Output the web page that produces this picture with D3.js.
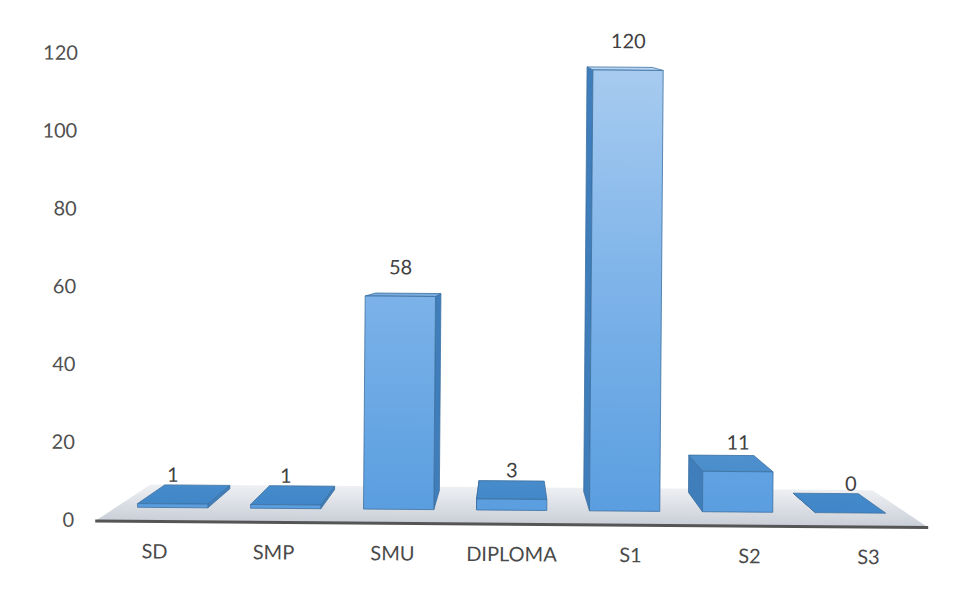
<!DOCTYPE html>
<html>
<head>
<meta charset="utf-8">
<script src="https://cdn.jsdelivr.net/npm/d3@7"></script>
<style>
  html, body { margin: 0; padding: 0; background: #ffffff; }
  svg { display: block; }
  text { font-family: Lato, "Open Sans", sans-serif; }
</style>
</head>
<body>
<svg id="chart" width="956" height="593"></svg>
<script>
// ---- data ----
const categories = ["SD", "SMP", "SMU", "DIPLOMA", "S1", "S2", "S3"];
const values = [1, 1, 58, 3, 120, 11, 0];
const yTicks = [0, 20, 40, 60, 80, 100, 120];

// ---- layout ----
const svg = d3.select("#chart");
const defs = svg.append("defs");
const g = svg.append("g").attr("transform", "rotate(0.45, 478, 296)");

// world scales (front plane of the floor, z = 0)
const x = d3.scaleBand().domain(categories).range([97, 930])
  .paddingInner(0.378).paddingOuter(0.189);
const y = d3.scaleLinear().domain([0, 120]).range([524, 58.3]);
// y-axis label scale
const yLab = d3.scaleLinear().domain([0, 120]).range([523, 56]);

// perspective projection
const VX = 510, VY = 260, AX = 0.133, AY = 0.14;
function proj(X, Y, z) {
  return [VX + (X - VX) * (1 - AX * z), VY + (Y - VY) * (1 - AY * z)];
}
const Z0 = 0.38, Z1 = 0.9;

// gradients
const gFront = defs.append("linearGradient").attr("id", "gFront")
  .attr("gradientUnits", "userSpaceOnUse").attr("x1", 0).attr("x2", 0).attr("y1", 60).attr("y2", 512);
gFront.append("stop").attr("offset", 0).attr("stop-color", "#a9ccf0");
gFront.append("stop").attr("offset", 0.5).attr("stop-color", "#7db3e9");
gFront.append("stop").attr("offset", 1).attr("stop-color", "#5a9ee0");

const gTop = defs.append("linearGradient").attr("id", "gTop")
  .attr("gradientUnits", "userSpaceOnUse").attr("x1", 0).attr("x2", 0).attr("y1", 60).attr("y2", 512);
gTop.append("stop").attr("offset", 0).attr("stop-color", "#b9d6f4");
gTop.append("stop").attr("offset", 1).attr("stop-color", "#3f86c8");

const gFloor = defs.append("linearGradient").attr("id", "gFloor")
  .attr("x1", 0).attr("x2", 0).attr("y1", 1).attr("y2", 0);
gFloor.append("stop").attr("offset", 0).attr("stop-color", "#c9ced7");
gFloor.append("stop").attr("offset", 1).attr("stop-color", "#eef0f3");

// floor
const x0 = x.range()[0], x1 = x.range()[1], base = y(0);
const floorPts = [proj(x0, base, 0), proj(x1, base, 0), proj(x1, base, 1), proj(x0, base, 1)];
const pts = arr => arr.map(p => p.join(",")).join(" ");
g.append("polygon").attr("points", pts(floorPts)).attr("fill", "url(#gFloor)");
g.append("line")
  .attr("x1", floorPts[0][0]).attr("y1", floorPts[0][1])
  .attr("x2", floorPts[1][0]).attr("y2", floorPts[1][1])
  .attr("stroke", "#555555").attr("stroke-width", 3);

// bars
const data = categories.map((c, i) => ({ c, v: values[i] }));
const order = data.slice().sort((a, b) =>
  Math.abs(x(b.c) + x.bandwidth() / 2 - VX) - Math.abs(x(a.c) + x.bandwidth() / 2 - VX));
const edge = "#3d70a0";

order.forEach(d => {
  const xl = x(d.c), xr = xl + x.bandwidth(), yt = y(d.v), yb = y(0);
  const cx = xl + x.bandwidth() / 2;
  const FLT = proj(xl, yt, Z0), FRT = proj(xr, yt, Z0), FLB = proj(xl, yb, Z0), FRB = proj(xr, yb, Z0);
  const BLT = proj(xl, yt, Z1), BRT = proj(xr, yt, Z1), BLB = proj(xl, yb, Z1), BRB = proj(xr, yb, Z1);
  // keep a thin visible top face for very tall bars
  const minTop = FLT[1] - 3;
  if (BLT[1] > minTop) { BLT[1] = minTop; BRT[1] = minTop; }
  const bg = g.append("g");
  const side = cx < VX ? [FRT, BRT, BRB, FRB] : [FLT, BLT, BLB, FLB];
  bg.append("polygon").attr("points", pts(side))
    .attr("fill", "#3f7dbb").attr("stroke", edge).attr("stroke-width", 0.8);
  bg.append("polygon").attr("points", pts([FLT, FRT, BRT, BLT]))
    .attr("fill", "url(#gTop)").attr("stroke", edge).attr("stroke-width", 0.8);
  if (FLB[1] - FLT[1] > 0.5) {
    bg.append("polygon").attr("points", pts([FLT, FRT, FRB, FLB]))
      .attr("fill", "url(#gFront)").attr("stroke", edge).attr("stroke-width", 0.8);
  }
  const lp = proj(cx, yt, Z0);
  g.append("text").attr("x", lp[0]).attr("y", lp[1] - 29)
    .attr("text-anchor", "middle").attr("dy", "0.35em")
    .attr("font-size", 20).attr("fill", "#404040").text(d.v);
});

// category labels
g.selectAll("text.cat").data(categories).join("text").attr("class", "cat")
  .attr("x", c => x(c) + x.bandwidth() / 2)
  .attr("y", 554).attr("dy", "0.35em")
  .attr("text-anchor", "middle").attr("font-size", 20).attr("fill", "#4a4a4a")
  .text(c => c);

// y-axis labels
g.selectAll("text.ytick").data(yTicks).join("text").attr("class", "ytick")
  .attr("x", 76).attr("y", v => yLab(v)).attr("dy", "0.35em")
  .attr("text-anchor", "end").attr("font-size", 20).attr("fill", "#505050")
  .text(v => v);
</script>
</body>
</html>
